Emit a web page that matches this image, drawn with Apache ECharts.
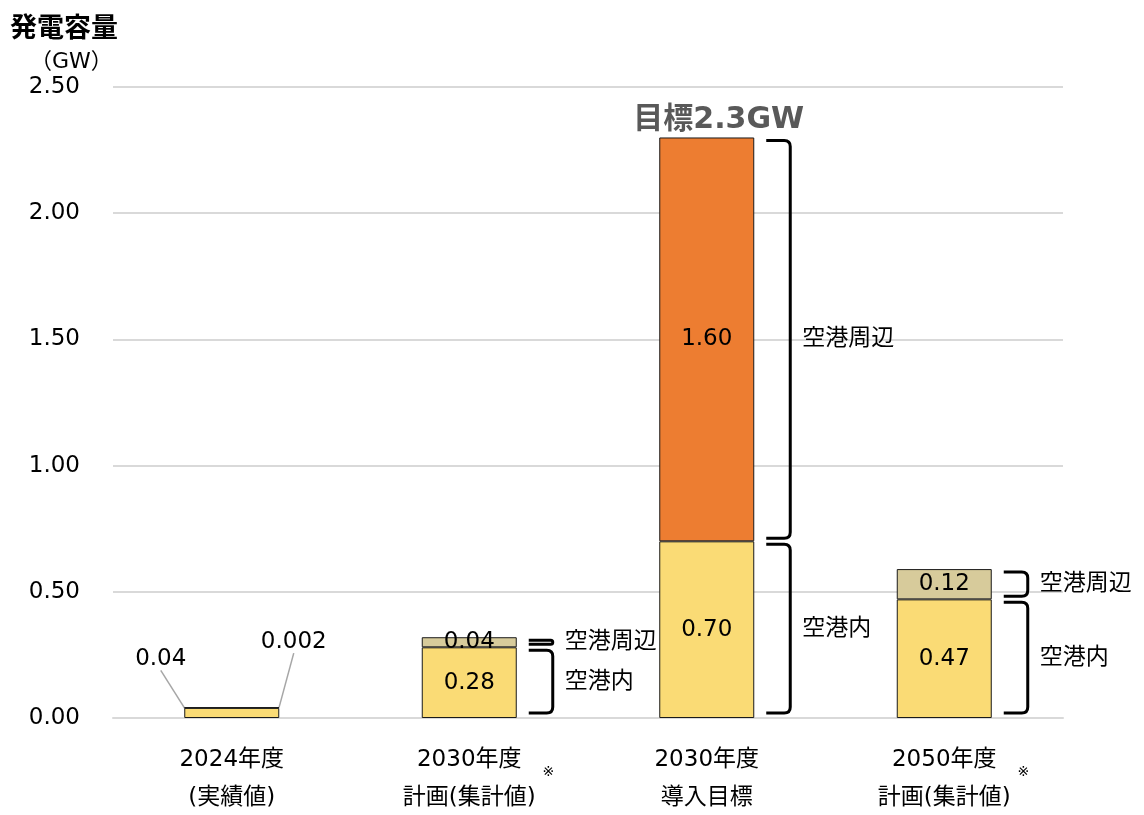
<!DOCTYPE html>
<html>
<head>
<meta charset="utf-8">
<script src="https://cdn.jsdelivr.net/npm/echarts@6/dist/echarts.min.js"></script>
<style>
  html, body { margin: 0; padding: 0; background: #fff; }
  #chart { width: 1144px; height: 815px; }
</style>
</head>
<body>
<div id="chart"></div>
<script>
// categories (two-line labels) and whether a ※ note follows
var categories = ['2024年度\n(実績値)', '2030年度\n計画(集計値)', '2030年度\n導入目標', '2050年度\n計画(集計値)'];
var noteMarks = [false, true, false, true];

// GW values
var airportInside = [0.04, 0.28, 0.70, 0.47];      // 空港内
var airportAroundPlan = [0.002, 0.04, null, 0.12]; // 空港周辺 (計画)
var airportAroundTarget = [null, null, 1.60, null]; // 空港周辺 (目標)
var targetTotal = [null, null, 0, null];            // marker on top of the target bar
var targetText = '目標2.3GW';

// brace annotations: which categories get braces
var braceCategories = [1, 2, 3];
var braceInsideText = '空港内';
var braceAroundText = '空港周辺';

var yMin = 0, yMax = 2.5, yStep = 0.5;

var FONT = 'DejaVu Sans, "Noto Sans CJK JP", sans-serif';

function fmt(v) {
    return v < 0.01 ? v.toFixed(3) : v.toFixed(2);
}

// build brace rows from the series values
var braceRows = [];
braceCategories.forEach(function (c) {
    var inner = airportInside[c];
    var around = (airportAroundPlan[c] || 0) + (airportAroundTarget[c] || 0);
    braceRows.push([c, 0, inner, braceInsideText, 0]);
    braceRows.push([c, inner, inner + around, braceAroundText, 1]);
});

var myChart = echarts.init(document.getElementById('chart'));

var labelBase = {
    show: true,
    position: 'inside',
    color: '#000',
    fontSize: 23,
    fontFamily: FONT,
    formatter: function (p) { return fmt(p.value); }
};

var option = {
    backgroundColor: '#fff',
    animation: false,
    textStyle: { fontFamily: FONT },
    title: {
        left: 5,
        top: 8,
        text: '{a|発電容量}\n{b|（GW）}',
        textStyle: {
            rich: {
                a: { fontSize: 27, fontWeight: 'bold', color: '#000', fontFamily: FONT, lineHeight: 34 },
                b: { fontSize: 22, fontWeight: 'normal', color: '#000', fontFamily: FONT, lineHeight: 30, padding: [0, 0, 0, 20] }
            }
        }
    },
    grid: { left: 113, right: 81, top: 87, bottom: 97, containLabel: false },
    xAxis: {
        type: 'category',
        data: categories,
        axisLine: { lineStyle: { color: '#d9d9d9', width: 2 } },
        axisTick: { show: false },
        axisLabel: {
            margin: 23,
            interval: 0,
            formatter: function (val, idx) {
                var parts = val.split('\n');
                if (noteMarks[idx]) {
                    return '{p|※}{a|' + parts[0] + '}{s|※}\n{a|' + parts[1] + '}';
                }
                return '{a|' + parts[0] + '}\n{a|' + parts[1] + '}';
            },
            rich: {
                a: { fontSize: 23, color: '#000', fontFamily: FONT, lineHeight: 38 },
                s: { fontSize: 14, color: '#000', fontFamily: FONT, lineHeight: 1, verticalAlign: 'bottom', padding: [0, 0, 0, 21] },
                p: { fontSize: 14, color: 'transparent', fontFamily: FONT, lineHeight: 1, verticalAlign: 'bottom', padding: [0, 21, 0, 0] }
            }
        }
    },
    yAxis: {
        type: 'value',
        min: yMin,
        max: yMax,
        interval: yStep,
        axisLine: { show: false },
        axisTick: { show: false },
        axisLabel: {
            margin: 33,
            fontSize: 23,
            color: '#000',
            fontFamily: FONT,
            formatter: function (v) { return v.toFixed(2); }
        },
        splitLine: { lineStyle: { color: '#d9d9d9', width: 2 } }
    },
    series: [
        {
            name: '空港内',
            type: 'bar',
            stack: 'total',
            barWidth: '40%',
            itemStyle: { color: '#FADB75', borderColor: '#1a1a1a', borderWidth: 1 },
            label: labelBase,
            labelLine: { show: false, lineStyle: { color: '#a6a6a6', width: 1.5 } },
            labelLayout: function (p) {
                if (p.dataIndex === 0) return { dx: -71, dy: -54 };
                return {};
            },
            data: airportInside.map(function (v, i) {
                return i === 0 ? { value: v, labelLine: { show: true } } : v;
            })
        },
        {
            name: '空港周辺',
            type: 'bar',
            stack: 'total',
            itemStyle: { color: '#D7CB9B', borderColor: '#1a1a1a', borderWidth: 1 },
            label: labelBase,
            labelLine: { show: false, lineStyle: { color: '#a6a6a6', width: 1.5 } },
            labelLayout: function (p) {
                if (p.dataIndex === 0) return { dx: 62, dy: -66 };
                return {};
            },
            data: airportAroundPlan.map(function (v, i) {
                return i === 0 ? { value: v, labelLine: { show: true } } : v;
            })
        },
        {
            name: '空港周辺目標',
            type: 'bar',
            stack: 'total',
            itemStyle: { color: '#ED7D31', borderColor: '#1a1a1a', borderWidth: 1 },
            label: labelBase,
            data: airportAroundTarget
        },
        {
            name: '目標',
            type: 'bar',
            stack: 'total',
            itemStyle: { color: 'transparent', borderWidth: 0 },
            label: {
                show: true,
                position: 'top',
                distance: 2,
                offset: [12, 0],
                fontSize: 30,
                fontWeight: 'bold',
                color: '#595959',
                fontFamily: FONT,
                formatter: function () { return targetText; }
            },
            data: targetTotal
        },
        {
            name: 'brace',
            type: 'custom',
            silent: true,
            z: 5,
            encode: { x: 0, y: [1, 2] },
            data: braceRows,
            renderItem: function (params, api) {
                var cat = api.value(0);
                var lo = api.coord([cat, api.value(1)]);
                var hi = api.coord([cat, api.value(2)]);
                var half = api.size([1, 0])[0] * 0.2;
                var gap = 3;
                var x0 = lo[0] + half + 12;
                var x1 = x0 + 24;
                var yTop = hi[1] + gap;
                var yBot = lo[1] - (api.value(1) === 0 ? 5 : gap);
                var r = Math.min(6, (yBot - yTop) / 2);
                var path = 'M' + x0 + ' ' + yTop +
                    ' L' + (x1 - r) + ' ' + yTop +
                    ' Q' + x1 + ' ' + yTop + ' ' + x1 + ' ' + (yTop + r) +
                    ' L' + x1 + ' ' + (yBot - r) +
                    ' Q' + x1 + ' ' + yBot + ' ' + (x1 - r) + ' ' + yBot +
                    ' L' + x0 + ' ' + yBot;
                return {
                    type: 'group',
                    children: [
                        {
                            type: 'path',
                            shape: { pathData: path },
                            style: { stroke: '#000', lineWidth: 3, fill: null }
                        },
                        {
                            type: 'text',
                            x: x1 + 12,
                            y: (yTop + yBot) / 2,
                            style: {
                                text: api.value(3),
                                fontSize: 23,
                                fontFamily: FONT,
                                fill: '#000',
                                verticalAlign: 'middle'
                            }
                        }
                    ]
                };
            }
        }
    ]
};

myChart.setOption(option);
</script>
</body>
</html>
